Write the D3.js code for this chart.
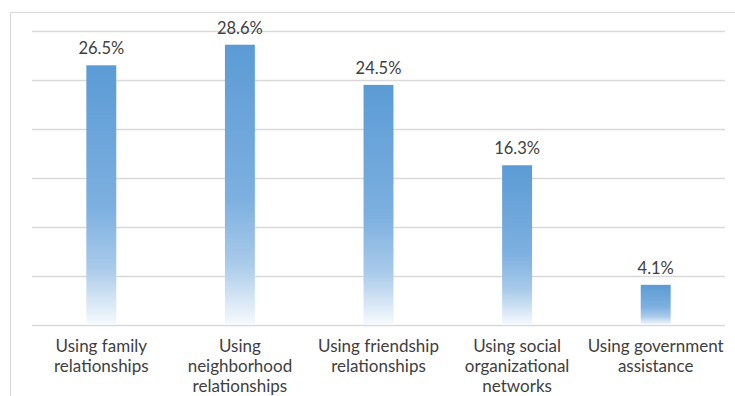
<!DOCTYPE html>
<html>
<head>
<meta charset="utf-8">
<script src="https://cdn.jsdelivr.net/npm/d3@7"></script>
<style>
  html, body { margin: 0; padding: 0; background: #fff; }
  svg { display: block; }
</style>
</head>
<body>
<svg id="chart" width="735" height="396"></svg>
<script>
const categories = [
  ["Using family", "relationships"],
  ["Using", "neighborhood", "relationships"],
  ["Using friendship", "relationships"],
  ["Using social", "organizational", "networks"],
  ["Using government", "assistance"]
];
const values = [26.5, 28.6, 24.5, 16.3, 4.1];
const yTicks = [0, 5, 10, 15, 20, 25, 30];

const svg = d3.select("#chart");
const W = 735, H = 396;
const margin = { left: 32, right: 10, top: 31, bottom: 71 };
const font = "Lato, 'Open Sans', sans-serif";

svg.append("rect").attr("x", 10.5).attr("y", 12.5).attr("width", 740).attr("height", 400)
  .attr("fill", "none").attr("stroke", "#d9d9d9").attr("stroke-width", 1);

const x = d3.scaleBand().domain(d3.range(values.length))
  .range([margin.left, W - margin.right]).paddingInner(0.784).paddingOuter(0.392);
const y = d3.scaleLinear().domain([0, 30]).range([H - margin.bottom, margin.top]);

const defs = svg.append("defs");
const grad = defs.append("linearGradient").attr("id", "barGrad")
  .attr("x1", 0).attr("y1", 0).attr("x2", 0).attr("y2", 1);
grad.append("stop").attr("offset", "0%").attr("stop-color", "#5B9BD5");
grad.append("stop").attr("offset", "55%").attr("stop-color", "#7DB0E0");
grad.append("stop").attr("offset", "78%").attr("stop-color", "#A9CAEA");
grad.append("stop").attr("offset", "100%").attr("stop-color", "#F7FAFD");

// gridlines via axis
const grid = svg.append("g").attr("transform", `translate(${margin.left},0)`)
  .call(d3.axisRight(y).tickValues(yTicks).tickSize(W - margin.right - margin.left).tickFormat(""));
grid.select(".domain").remove();
grid.selectAll(".tick line").attr("stroke", "#d9d9d9").attr("stroke-width", 1.3);

svg.append("g").selectAll("rect").data(values).join("rect")
  .attr("x", (d, i) => x(i))
  .attr("y", d => y(d))
  .attr("width", x.bandwidth())
  .attr("height", d => y(0) - y(d))
  .attr("fill", "url(#barGrad)");

svg.append("g").selectAll("text").data(values).join("text")
  .attr("x", (d, i) => x(i) + x.bandwidth() / 2)
  .attr("y", d => y(d) - 11)
  .attr("text-anchor", "middle")
  .attr("font-family", font).attr("font-size", 16.5)
  .attr("fill", "#404040")
  .text(d => d.toFixed(1) + "%");

// category axis
const xAxis = svg.append("g").attr("transform", `translate(0,${y(0)})`)
  .call(d3.axisBottom(x).tickSize(0).tickFormat(""));
xAxis.select(".domain").remove();
xAxis.selectAll(".tick").each(function(i) {
  const t = d3.select(this).append("text")
    .attr("text-anchor", "middle")
    .attr("font-family", font).attr("font-size", 17)
    .attr("fill", "#404040");
  categories[i].forEach((line, k) => {
    t.append("tspan").attr("x", 0).attr("y", 27 + k * 20).text(line);
  });
});
</script>
</body>
</html>
